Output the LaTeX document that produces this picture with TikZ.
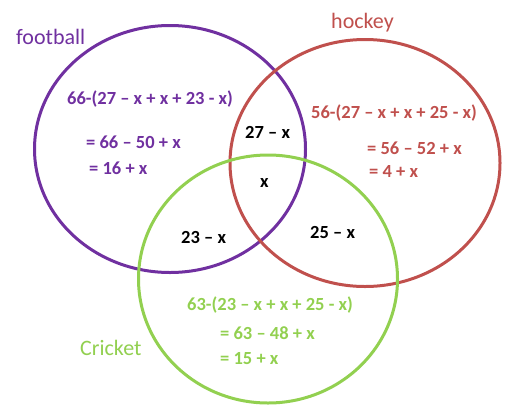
\documentclass[tikz,border=0pt]{standalone}
\usepackage{fontspec}
\setmainfont{Carlito}
\usetikzlibrary{shapes.geometric}
\newcommand{\SetLblFont}{\fontsize{22}{24}\selectfont}
\newcommand{\SumFont}{\fontsize{18.5}{20}\selectfont\bfseries}
\definecolor{FootDraw}{RGB}{112,48,160}
\definecolor{HockDraw}{RGB}{192,80,77}
\definecolor{CricDraw}{RGB}{146,208,80}
\tikzset{
  every node/.style={align=left},
  %% base set ellipse
  setBlk/.style={
    ellipse,
    draw,
    line width=3pt,
    inner sep=0pt,
  },
  footSet/.style={
    setBlk, draw=FootDraw,
    minimum width=271pt, minimum height=247pt,
  },
  hockSet/.style={
    setBlk, draw=HockDraw,
    minimum width=270pt, minimum height=247pt,
  },
  cricSet/.style={
    setBlk, draw=CricDraw,
    minimum width=259pt, minimum height=248pt,
  },
  %% set names
  setLbl/.style={
    font=\SetLblFont,
    anchor=base west,
    fill=white,
    inner sep=2pt,
  },
  %% region sums
  sumTxt/.style={
    font=\SumFont,
    anchor=base west,
    inner sep=0pt,
  },
}

\begin{document}
\begin{tikzpicture}[x=1pt, y=-1pt]

\useasboundingbox (0,0) rectangle (508,410);

%%═══════════════════════════════ SETS ════════════════════════════════════════
\node[footSet] (FOOT) at (170,149) {};
\node[hockSet] (HOCK) at (365,163) {};
\node[cricSet] (CRIC) at (268,279) {};

%% ── Set names ──────────────────────────────────────────────────────────────
\node[setLbl, text=FootDraw] (FOOTLBL) at (14,44)  {football};
\node[setLbl, text=HockDraw] (HOCKLBL) at (329,28) {hockey};
\node[setLbl, text=CricDraw] (CRICLBL) at (78,355) {Cricket};

%% ── Football only ──────────────────────────────────────────────────────────
\node[sumTxt, text=FootDraw] (F1) at (67,104)  {66-(27 – x + x + 23 - x)};
\node[sumTxt, text=FootDraw] (F2) at (86,148)  {= 66 – 50 + x};
\node[sumTxt, text=FootDraw] (F3) at (89,174)  {= 16 + x};

%% ── Hockey only ────────────────────────────────────────────────────────────
\node[sumTxt, text=HockDraw] (H1) at (311,118) {56-(27 – x + x + 25 - x)};
\node[sumTxt, text=HockDraw] (H2) at (367,154) {= 56 – 52 + x};
\node[sumTxt, text=HockDraw] (H3) at (369,177) {= 4 + x};

%% ── Cricket only ───────────────────────────────────────────────────────────
\node[sumTxt, text=CricDraw] (C1) at (187,310) {63-(23 – x + x + 25 - x)};
\node[sumTxt, text=CricDraw] (C2) at (220,339) {= 63 – 48 + x};
\node[sumTxt, text=CricDraw] (C3) at (220,364) {= 15 + x};

%% ── Overlaps ───────────────────────────────────────────────────────────────
\node[sumTxt] (FH)  at (245,138) {27 – x};
\node[sumTxt] (ALL) at (260,187) {x};
\node[sumTxt] (FC)  at (181,243) {23 – x};
\node[sumTxt] (HC)  at (310,238) {25 – x};

\end{tikzpicture}
\end{document}
